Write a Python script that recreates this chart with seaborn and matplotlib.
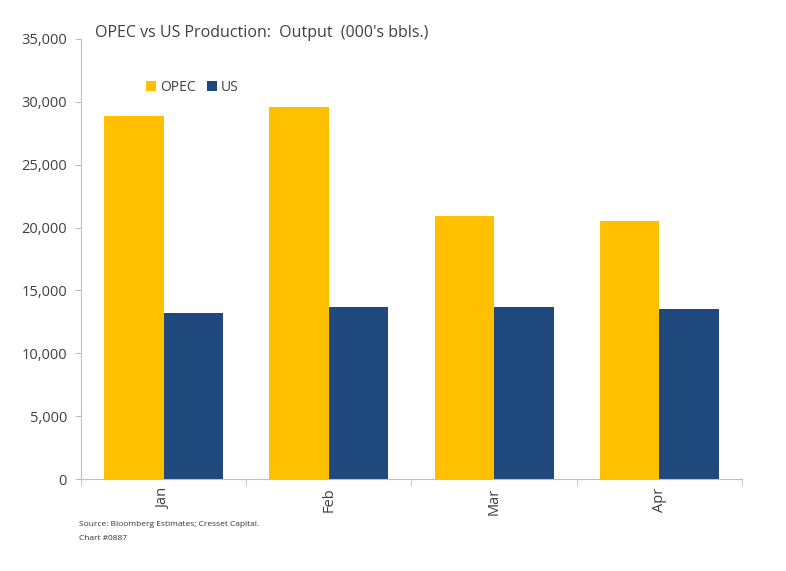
import matplotlib
matplotlib.use("Agg")
import matplotlib.pyplot as plt
import numpy as np
import pandas as pd
import seaborn as sns
from matplotlib.ticker import FuncFormatter, FixedLocator

months = ["Jan", "Feb", "Mar", "Apr"]
opec = [28900, 29600, 20950, 20550]
us = [13200, 13700, 13650, 13550]

df = pd.DataFrame({
    "month": months * 2,
    "series": ["OPEC"] * 4 + ["US"] * 4,
    "value": opec + us,
})

sns.set_style("white")
plt.rcParams["font.family"] = ["Open Sans", "DejaVu Sans"]

fig = plt.figure(figsize=(7.86, 5.71), dpi=100)
ax = fig.add_axes([0.103, 0.161, 0.841, 0.771])

sns.barplot(data=df, x="month", y="value", hue="series", order=months,
            hue_order=["OPEC", "US"], palette=["#FFC000", "#1F497D"],
            width=0.72, saturation=1, ax=ax, linewidth=0)

ax.set_xlim(-0.5, 3.5)
ax.set_ylim(0, 35000)
ax.set_yticks(np.arange(0, 35001, 5000))
ax.yaxis.set_major_formatter(FuncFormatter(lambda v, p: f"{int(v):,}"))
ax.set_xlabel("")
ax.set_ylabel("")

grey = "#BFBFBF"
txt = "#404040"
for s in ["top", "right"]:
    ax.spines[s].set_visible(False)
ax.spines["left"].set_color(grey)
ax.spines["bottom"].set_color(grey)

ax.tick_params(axis="y", which="major", length=4, color=grey, labelsize=10.5,
               labelcolor=txt, pad=6, left=True)
ax.tick_params(axis="x", which="major", length=0, labelsize=10.5,
               labelcolor=txt, rotation=90, pad=6)
ax.xaxis.set_minor_locator(FixedLocator([-0.5, 0.5, 1.5, 2.5, 3.5]))
ax.tick_params(axis="x", which="minor", length=5, color=grey, bottom=True)

leg = ax.legend(loc="upper left", bbox_to_anchor=(0.08, 0.935), ncol=2,
                frameon=False, fontsize=10, handlelength=0.7, handleheight=0.7,
                handletextpad=0.3, columnspacing=0.8, labelcolor=txt)

fig.text(0.121, 0.936, "OPEC vs US Production:  Output  (000's bbls.)",
         fontsize=11.5, color=txt)
fig.text(0.1, 0.078, "Source: Bloomberg Estimates; Cresset Capital.",
         fontsize=6, color="#333333")
fig.text(0.1, 0.055, "Chart #0887", fontsize=6, color="#333333")

fig.savefig("out.png", dpi=100)
